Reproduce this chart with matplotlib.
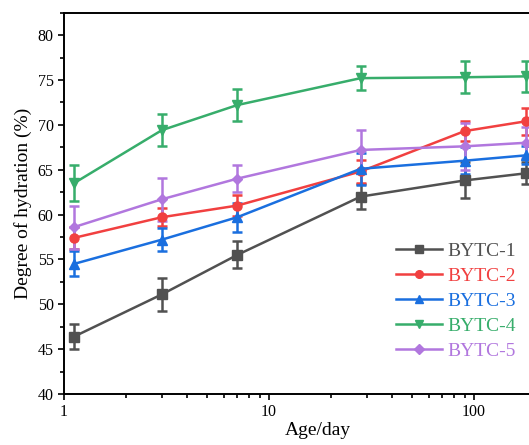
import matplotlib
matplotlib.use("Agg")
import matplotlib.pyplot as plt
from matplotlib.ticker import FixedLocator, LogLocator, NullFormatter, MultipleLocator

plt.rcParams["font.family"] = ["Liberation Serif", "DejaVu Serif"]

# Curing age (days) and degree of hydration (%) with standard deviations
age = [1.12, 3, 7, 28, 90, 180]

bytc1 = [46.4, 51.1, 55.5, 62.0, 63.8, 64.6]
err1 = [1.4, 1.8, 1.5, 1.4, 2.0, 1.2]
bytc2 = [57.4, 59.7, 61.0, 64.8, 69.3, 70.4]
err2 = [1.2, 1.0, 1.2, 1.3, 1.15, 1.5]
bytc3 = [54.5, 57.2, 59.7, 65.1, 66.0, 66.6]
err3 = [1.4, 1.3, 1.6, 1.8, 1.5, 1.0]
bytc4 = [63.5, 69.4, 72.2, 75.2, 75.3, 75.4]
err4 = [2.0, 1.8, 1.8, 1.3, 1.8, 1.7]
bytc5 = [58.6, 61.7, 64.0, 67.2, 67.6, 68.0]
err5 = [2.4, 2.4, 1.5, 2.2, 2.6, 1.7]

labels = ["BYTC-1", "BYTC-2", "BYTC-3", "BYTC-4", "BYTC-5"]
colors = ["#515151", "#F14040", "#1A6FDF", "#37AD6B", "#B177DE"]
markers = ["s", "o", "^", "v", "D"]
msizes = [6.5, 6.5, 6.5, 6.5, 5.5]

series = [bytc1, bytc2, bytc3, bytc4, bytc5]
errors = [err1, err2, err3, err4, err5]

fig = plt.figure(figsize=(5.29, 4.45), dpi=100)
ax = fig.add_axes([0.121, 0.1146, 0.960, 0.857])

handles = []
for y, e, lab, c, m, ms in zip(series, errors, labels, colors, markers, msizes):
    cont = ax.errorbar(age, y, yerr=e, color=c, marker=m, markersize=ms, lw=1.8,
                       elinewidth=1.8, capsize=3.5, capthick=1.8, label=lab)
    handles.append(cont.lines[0])

ax.set_xscale("log")
ax.set_xlim(1, 300)
ax.set_ylim(40, 82.5)

ax.xaxis.set_major_locator(FixedLocator([1, 10, 100]))
ax.set_xticklabels(["1", "10", "100"])
ax.xaxis.set_minor_locator(LogLocator(base=10, subs=range(2, 10)))
ax.xaxis.set_minor_formatter(NullFormatter())
ax.yaxis.set_major_locator(MultipleLocator(5))
ax.yaxis.set_minor_locator(MultipleLocator(2.5))

ax.tick_params(which="major", direction="out", length=4.5, width=1.2,
               labelsize=11.5, pad=3)
ax.tick_params(which="minor", direction="out", length=2.8, width=1.2)
ax.tick_params(top=False, right=False, which="both")

for s in ax.spines.values():
    s.set_linewidth(1.4)

ax.set_xlabel("Age/day", fontsize=14, labelpad=1)
ax.set_ylabel("Degree of hydration (%)", fontsize=14, labelpad=4)

leg = ax.legend(handles=handles, labels=labels, loc="upper left",
                bbox_to_anchor=(0.748, 0.455),
                bbox_transform=fig.transFigure, frameon=False, fontsize=14,
                handlelength=2.4, handletextpad=0.25, labelspacing=0.38,
                borderpad=0, borderaxespad=0, markerscale=0.85)
for txt, c in zip(leg.get_texts(), colors):
    txt.set_color(c)

fig.savefig("out.png", dpi=100)
